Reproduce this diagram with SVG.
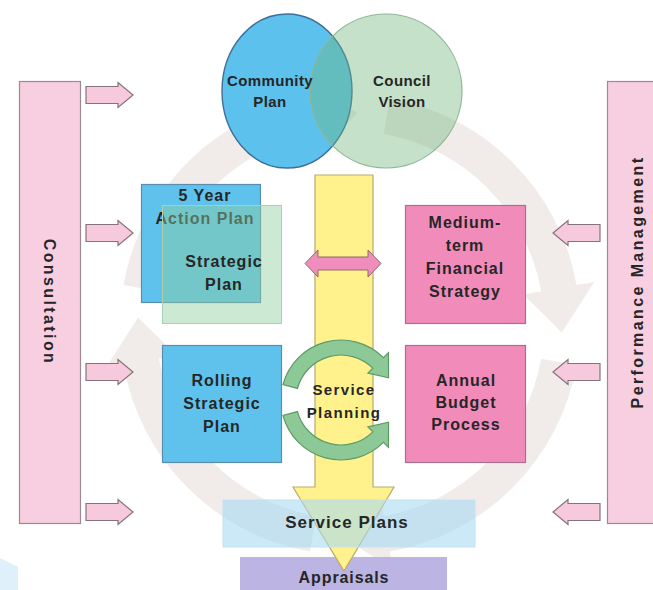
<svg xmlns="http://www.w3.org/2000/svg" width="653" height="590" viewBox="0 0 653 590">
  <style>
    .lbl { font-family: "Liberation Sans", Arial, sans-serif; font-weight: bold; fill: #262626; text-anchor: middle; }
    .box { font-size: 16px; letter-spacing: 1px; }
    .side { font-size: 16px; letter-spacing: 2.4px; }
    .bar { fill: #f8cfe1; stroke: #9c8a92; stroke-width: 1.2; }
    .sidearrow { fill: #f7c9dc; stroke: #857379; stroke-width: 1.2; }
    .bluebox { fill: #5fc2ec; stroke: #5a8db0; stroke-width: 1.2; }
    .pinkbox { fill: #f18cba; stroke: #a8708a; stroke-width: 1.2; }
    .ring { fill: #f1ecea; }
    .cycle { fill: #8cc996; stroke: #5f9a68; stroke-width: 1.2; }
  </style>
  <defs>
    <!-- block arrow pointing right, origin at tail centre -->
    <path id="blockArrow" d="M0 -8.5 H32 V-12.5 L47 0 L32 12.5 V8.5 H0 Z"/>
    <!-- one quarter of the background cycle ring, centred on origin -->
    <path id="ringArrow" d="M-191.1 -33.7 L-226.5 -39.9 A230 230 0 0 1 -39.9 -226.5 L-43.1 -244.2 L7.4 -211.9 L-30.6 -173.3 L-33.7 -191.1 A194 194 0 0 0 -191.1 -33.7 Z"/>
  </defs>

  <rect width="653" height="590" fill="#ffffff"/>

  <!-- faint background cycle -->
  <g id="background-cycle" class="ring" transform="translate(350 325)">
    <use href="#ringArrow"/>
    <use href="#ringArrow" transform="rotate(90)"/>
    <use href="#ringArrow" transform="rotate(180)"/>
    <use href="#ringArrow" transform="rotate(270)"/>
  </g>

  <!-- corner decoration -->
  <path d="M0 558 L18 567 V590 H0 Z" fill="#dff0fb"/>

  <!-- side bars -->
  <g id="consultation">
    <rect class="bar" x="19.5" y="81.5" width="61" height="442"/>
    <text class="lbl side" transform="translate(44 302) rotate(90)">Consultation</text>
  </g>
  <g id="performance-management">
    <rect class="bar" x="607.5" y="81.5" width="50" height="442"/>
    <text class="lbl side" transform="translate(643 282) rotate(-90)">Performance Management</text>
  </g>

  <!-- input arrows from the side bars -->
  <g id="connectors">
    <use href="#blockArrow" class="sidearrow" transform="translate(86 95)"/>
    <use href="#blockArrow" class="sidearrow" transform="translate(86 233)"/>
    <use href="#blockArrow" class="sidearrow" transform="translate(86 372)"/>
    <use href="#blockArrow" class="sidearrow" transform="translate(86 512)"/>
    <use href="#blockArrow" class="sidearrow" transform="translate(600 233) scale(-1 1)"/>
    <use href="#blockArrow" class="sidearrow" transform="translate(600 372) scale(-1 1)"/>
    <use href="#blockArrow" class="sidearrow" transform="translate(600 512) scale(-1 1)"/>
  </g>

  <!-- vision circles -->
  <g id="community-plan">
    <ellipse cx="287" cy="91" rx="65" ry="77" fill="#5cc1ec" stroke="#3d6f98" stroke-width="1.4"/>
  </g>
  <g id="council-vision">
    <ellipse cx="386" cy="91" rx="76" ry="77" fill="#6db57a" fill-opacity="0.4" stroke="#8fb796" stroke-width="1.2"/>
  </g>
  <text class="lbl" font-size="15" letter-spacing="0.4" x="270" y="86">Community</text>
  <text class="lbl" font-size="15" letter-spacing="0.4" x="270" y="107">Plan</text>
  <text class="lbl" font-size="15" letter-spacing="0.4" x="402" y="86">Council</text>
  <text class="lbl" font-size="15" letter-spacing="0.4" x="402" y="107">Vision</text>

  <!-- appraisals sits beneath the central arrow -->
  <g id="appraisals">
    <rect x="240" y="557" width="207" height="40" fill="#bcb4e2"/>
  </g>

  <!-- central flow arrow -->
  <g id="service-flow">
    <path d="M315 175 H373 V487 H394 L344 571 L293 487 H315 Z" fill="#fff28c" stroke="#b9ab6a" stroke-width="1.2"/>
  </g>

  <!-- plan boxes -->
  <g id="five-year-action-plan">
    <rect class="bluebox" x="141.5" y="184.5" width="119" height="118"/>
    <text class="lbl box" x="205" y="201">5 Year</text>
    <text class="lbl box" x="205" y="224">Action Plan</text>
  </g>
  <g id="strategic-plan">
    <rect x="162.5" y="205.5" width="119" height="118" fill="#8fcf9f" fill-opacity="0.45" stroke="#a9d0b0" stroke-width="1"/>
    <text class="lbl box" x="224" y="267">Strategic</text>
    <text class="lbl box" x="224" y="290">Plan</text>
  </g>
  <g id="medium-term-financial-strategy">
    <rect class="pinkbox" x="405.5" y="205.5" width="120" height="118"/>
    <text class="lbl box" x="465" y="228">Medium-</text>
    <text class="lbl box" x="465" y="251">term</text>
    <text class="lbl box" x="465" y="274">Financial</text>
    <text class="lbl box" x="465" y="297">Strategy</text>
  </g>
  <g id="rolling-strategic-plan">
    <rect class="bluebox" x="162.5" y="345.5" width="119" height="117"/>
    <text class="lbl box" x="222" y="386">Rolling</text>
    <text class="lbl box" x="222" y="409">Strategic</text>
    <text class="lbl box" x="222" y="432">Plan</text>
  </g>
  <g id="annual-budget-process">
    <rect class="pinkbox" x="405.5" y="345.5" width="120" height="117"/>
    <text class="lbl box" x="466" y="386">Annual</text>
    <text class="lbl box" x="466" y="408">Budget</text>
    <text class="lbl box" x="466" y="430">Process</text>
  </g>

  <!-- two-way link between strategy and finance -->
  <g id="two-way-link">
    <path d="M305 263.5 L318 250 V257 H368 V250 L381 263.5 L368 277 V270 H318 V277 Z" fill="#f08dbd" stroke="#8c6e62" stroke-width="1"/>
  </g>

  <!-- service planning cycle -->
  <g id="service-planning">
    <path class="cycle" d="M283 384.5 A60 60 0 0 1 383.4 357.6 L388.4 352.6 L388.6 377.8 L367.9 373.1 L372.8 368.2 A45 45 0 0 0 297.5 388.4 Z"/>
    <path class="cycle" d="M283 415.5 A60 60 0 0 0 383.4 442.4 L388.4 447.4 L388.6 422.2 L367.9 426.9 L372.8 431.8 A45 45 0 0 1 297.5 411.6 Z"/>
    <text class="lbl" font-size="15" letter-spacing="1.4" x="344" y="395">Service</text>
    <text class="lbl" font-size="15" letter-spacing="1.4" x="344" y="418">Planning</text>
  </g>

  <!-- service plans band over the arrow -->
  <g id="service-plans">
    <rect x="223" y="500" width="252" height="47" fill="#a8daf2" fill-opacity="0.6" stroke="#c4e2ef" stroke-width="1"/>
    <text class="lbl" font-size="17" letter-spacing="1" fill="#3a3a3a" x="347" y="528">Service Plans</text>
  </g>

  <text class="lbl" font-size="16" letter-spacing="0.9" x="344" y="583">Appraisals</text>
</svg>
